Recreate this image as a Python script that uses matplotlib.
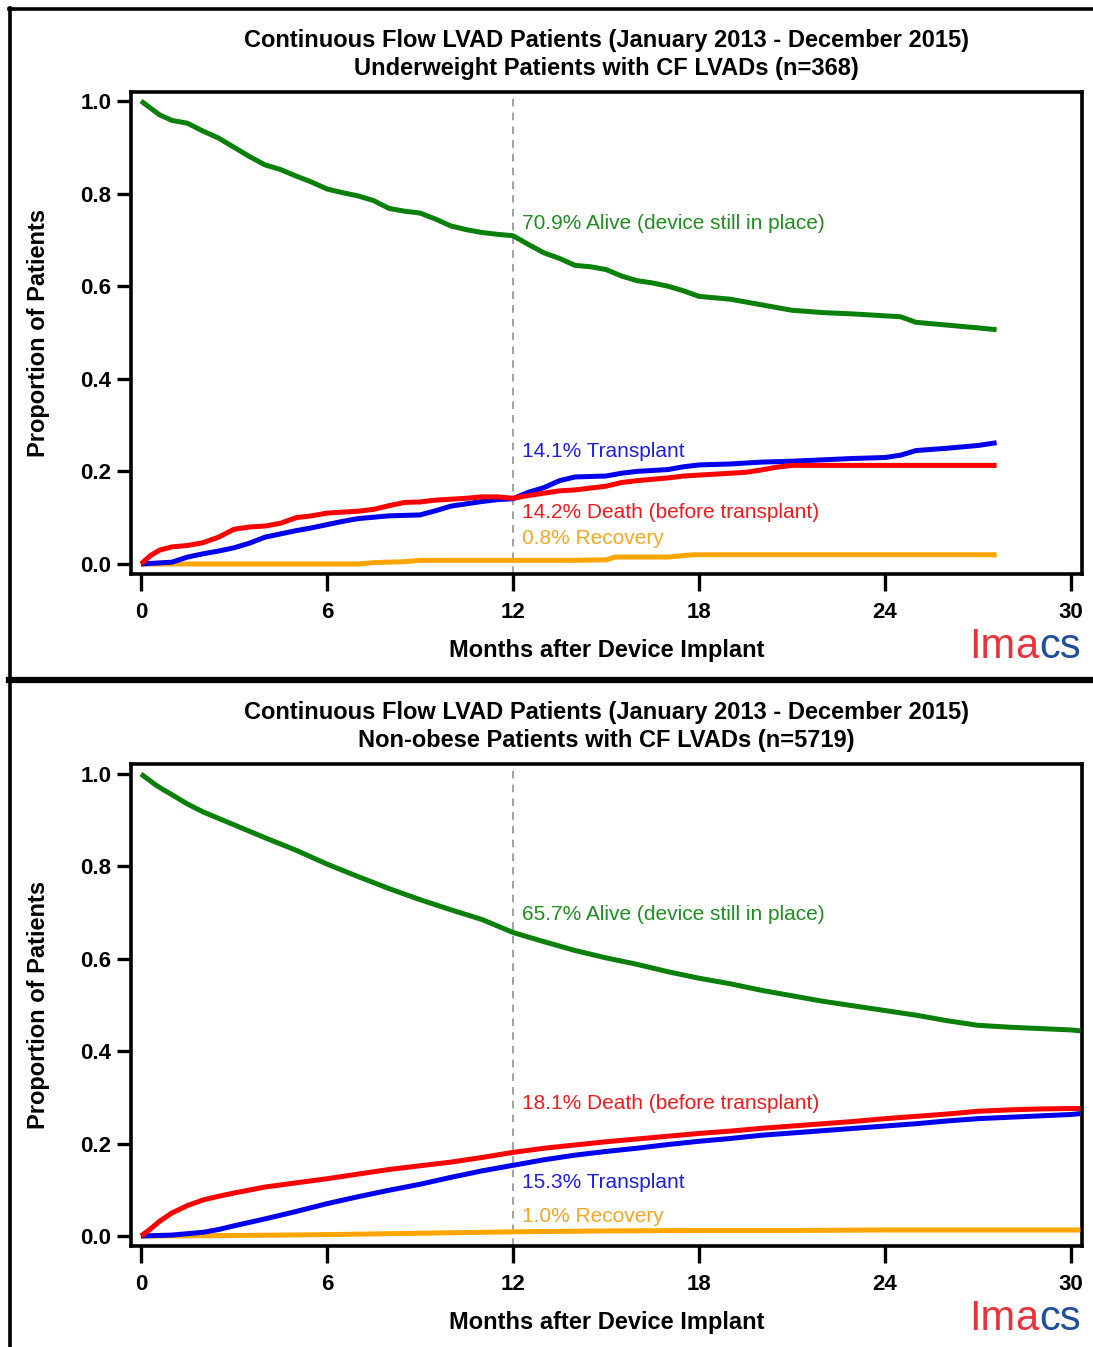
import matplotlib
matplotlib.use("Agg")
import matplotlib.pyplot as plt
from matplotlib.lines import Line2D
from matplotlib.offsetbox import TextArea, HPacker, AnchoredOffsetbox

plt.rcParams['font.family'] = ['Liberation Sans', 'DejaVu Sans']

# ---------------- Data ----------------
title_line1 = "Continuous Flow LVAD Patients (January 2013 - December 2015)"
p1_title2 = "Underweight Patients with CF LVADs (n=368)"
p2_title2 = "Non-obese Patients with CF LVADs (n=5719)"
x_label = "Months after Device Implant"
y_label = "Proportion of Patients"
x_ticks = [0, 6, 12, 18, 24, 30]
y_ticks = [0.0, 0.2, 0.4, 0.6, 0.8, 1.0]
y_ticklabels = ["0.0", "0.2", "0.4", "0.6", "0.8", "1.0"]

# Panel 1: underweight
p1_alive_x = [0, 0.3, 0.6, 1, 1.5, 2, 2.5, 3, 3.5, 4, 4.5, 5, 5.5, 6, 6.5, 7, 7.5, 8, 8.5, 9, 9.5, 10, 10.5, 11, 11.5, 12,
              12.5, 13, 13.5, 14, 14.5, 15, 15.5, 16, 16.5, 17, 17.5, 18, 19, 20, 21, 22, 23, 24, 24.5, 25, 26, 27, 27.6]
p1_alive_y = [1.0, 0.985, 0.97, 0.958, 0.952, 0.935, 0.92, 0.9, 0.88, 0.862, 0.852, 0.838, 0.825, 0.81, 0.802, 0.795, 0.785,
              0.768, 0.762, 0.758, 0.745, 0.73, 0.722, 0.716, 0.712, 0.709,
              0.69, 0.672, 0.66, 0.645, 0.642, 0.636, 0.622, 0.612, 0.607, 0.6, 0.59, 0.578, 0.572, 0.56, 0.548, 0.543, 0.54,
              0.536, 0.534, 0.522, 0.516, 0.51, 0.506]
p1_tx_x = [0, 1, 1.5, 2, 2.5, 3, 3.5, 4, 4.5, 5, 5.5, 6, 6.5, 7, 7.5, 8, 8.5, 9, 9.5, 10, 10.5, 11, 11.5, 12,
           12.5, 13, 13.5, 14, 15, 15.5, 16, 17, 17.5, 18, 19, 20, 21, 22, 23, 24, 24.5, 25, 26, 27, 27.6]
p1_tx_y = [0.0, 0.004, 0.015, 0.022, 0.028, 0.035, 0.045, 0.058, 0.065, 0.072, 0.078, 0.085, 0.092, 0.098, 0.101, 0.104, 0.105,
           0.106, 0.115, 0.125, 0.13, 0.135, 0.139, 0.141,
           0.155, 0.165, 0.18, 0.188, 0.19, 0.196, 0.2, 0.204, 0.21, 0.214, 0.216, 0.22, 0.222, 0.225, 0.228, 0.23, 0.235,
           0.245, 0.25, 0.256, 0.262]
p1_death_x = [0, 0.3, 0.6, 1, 1.5, 2, 2.5, 3, 3.5, 4, 4.5, 5, 5.5, 6, 6.5, 7, 7.5, 8, 8.5, 9, 9.5, 10, 10.5, 11, 11.5, 12,
              12.5, 13, 13.5, 14, 14.5, 15, 15.5, 16, 16.5, 17, 17.5, 18, 18.5, 19, 19.5, 20, 20.5, 21, 22, 24, 26, 27.6]
p1_death_y = [0.0, 0.018, 0.03, 0.037, 0.04, 0.046, 0.058, 0.075, 0.08, 0.082, 0.088, 0.1, 0.104, 0.11, 0.112, 0.114, 0.118,
              0.126, 0.133, 0.134, 0.138, 0.14, 0.142, 0.145, 0.145, 0.142,
              0.148, 0.153, 0.158, 0.16, 0.164, 0.168, 0.176, 0.18, 0.183, 0.186, 0.19, 0.192, 0.194, 0.196, 0.198, 0.203,
              0.209, 0.213, 0.213, 0.213, 0.213, 0.213]
p1_rec_x = [0, 3, 6, 7, 7.5, 8, 8.5, 9, 10, 12, 14, 15, 15.3, 17, 17.8, 18, 20, 24, 27.6]
p1_rec_y = [0.0, 0.0, 0.0, 0.0, 0.003, 0.004, 0.005, 0.008, 0.008, 0.008, 0.008, 0.009, 0.015, 0.015, 0.02, 0.02, 0.02, 0.02, 0.02]

# Panel 2: non-obese
p2_alive_x = [0, 0.5, 1, 1.5, 2, 3, 4, 5, 6, 7, 8, 9, 10, 11, 12, 13, 14, 15, 16, 17, 18, 19, 20, 21, 22, 23, 24, 25, 26,
              27, 28, 29, 30, 30.3]
p2_alive_y = [1.0, 0.975, 0.955, 0.935, 0.918, 0.89, 0.862, 0.835, 0.805, 0.778, 0.752, 0.728, 0.706, 0.685, 0.657, 0.637,
              0.618, 0.602, 0.588, 0.572, 0.558, 0.546, 0.532, 0.52, 0.508, 0.498, 0.488, 0.478, 0.466, 0.456, 0.452,
              0.449, 0.446, 0.444]
p2_death_x = [0, 0.3, 0.6, 1, 1.5, 2, 2.5, 3, 4, 5, 6, 7, 8, 9, 10, 11, 12, 13, 14, 15, 16, 17, 18, 19, 20, 21, 22, 23, 24,
              25, 26, 27, 28, 29, 30, 30.3]
p2_death_y = [0.0, 0.015, 0.032, 0.05, 0.066, 0.078, 0.086, 0.093, 0.106, 0.115, 0.124, 0.134, 0.144, 0.152, 0.16, 0.17,
              0.181, 0.19, 0.197, 0.204, 0.21, 0.216, 0.222, 0.227, 0.233, 0.238, 0.243, 0.248, 0.254, 0.259, 0.264,
              0.27, 0.273, 0.275, 0.276, 0.276]
p2_tx_x = [0, 1, 2, 2.5, 3, 4, 5, 6, 7, 8, 9, 10, 11, 12, 13, 14, 15, 16, 17, 18, 19, 20, 21, 22, 23, 24, 25, 26, 27, 28,
           29, 30, 30.3]
p2_tx_y = [0.0, 0.002, 0.008, 0.014, 0.022, 0.037, 0.053, 0.07, 0.085, 0.099, 0.112, 0.127, 0.141, 0.153, 0.165, 0.175,
           0.183, 0.19, 0.198, 0.205, 0.211, 0.218, 0.223, 0.228, 0.233, 0.238, 0.243, 0.249, 0.254, 0.257, 0.26,
           0.263, 0.265]
p2_rec_x = [0, 3, 6, 9, 12, 15, 18, 21, 24, 27, 30, 30.3]
p2_rec_y = [0.0, 0.001, 0.003, 0.006, 0.009, 0.011, 0.012, 0.012, 0.013, 0.013, 0.013, 0.013]

p1_labels = [("70.9% Alive (device still in place)", 0.736, "alive"),
             ("14.1% Transplant", 0.242, "tx"),
             ("14.2% Death (before transplant)", 0.112, "death"),
             ("0.8% Recovery", 0.054, "rec")]
p2_labels = [("65.7% Alive (device still in place)", 0.695, "alive"),
             ("18.1% Death (before transplant)", 0.286, "death"),
             ("15.3% Transplant", 0.115, "tx"),
             ("1.0% Recovery", 0.043, "rec")]

line_colors = {"alive": "#0a800a", "tx": "#0000ee", "death": "#ff0000", "rec": "#ffa500"}
text_colors = {"alive": "#1f8f1f", "tx": "#1f1fdd", "death": "#ee1c1c", "rec": "#f5a623"}

W, H = 1093, 1347
fig = plt.figure(figsize=(W / 100, H / 100), dpi=100)


def fx(px):
    return px / W


def fy(py):
    return 1 - py / H


AX_L, AX_R = 131, 1082


def make_panel(top_px, bottom_px, y1_px, y0_px, title2, series, labels, title_y):
    ax = fig.add_axes([fx(AX_L), fy(bottom_px), fx(AX_R) - fx(AX_L), fy(top_px) - fy(bottom_px)])
    for (xs, ys, key) in series:
        ax.plot(xs, ys, color=line_colors[key], lw=3.6, solid_capstyle='butt', zorder=3)
    ax.axvline(12, color='#888888', lw=1.1, ls=(0, (5, 4)), zorder=1)
    unit = y0_px - y1_px
    ax.set_xlim((AX_L - 141) / 31.0, (AX_R - 141) / 31.0)
    ax.set_ylim(-(bottom_px - y0_px) / unit, 1 + (y1_px - top_px) / unit)
    ax.set_xticks(x_ticks)
    ax.set_yticks(y_ticks)
    ax.set_yticklabels(y_ticklabels)
    ax.tick_params(axis='y', direction='out', length=10, width=2.4, labelsize=16, pad=4)
    ax.tick_params(axis='x', direction='out', length=12, width=2.4, labelsize=16, pad=8)
    for lab in ax.get_xticklabels() + ax.get_yticklabels():
        lab.set_fontweight('bold')
    for s in ax.spines.values():
        s.set_linewidth(2.6)
    h = bottom_px - top_px
    w = AX_R - AX_L
    ax.set_xlabel(x_label, fontsize=17, fontweight='bold', va='center')
    ax.xaxis.set_label_coords(0.5, -(651 - 574) / h)
    ax.set_ylabel(y_label, fontsize=17, fontweight='bold', va='center')
    ax.yaxis.set_label_coords(-(AX_L - 38) / w, 0.5)
    for text, yv, key in labels:
        ax.text(12.3, yv, text, color=text_colors[key], fontsize=15, va='center', ha='left', zorder=4)
    fig.text(fx(606), fy(title_y), title_line1, ha='center', va='center', fontsize=17, fontweight='bold')
    fig.text(fx(606), fy(title_y + 28), title2, ha='center', va='center', fontsize=17, fontweight='bold')
    return ax


make_panel(92, 574, 101, 564, p1_title2,
           [(p1_alive_x, p1_alive_y, "alive"), (p1_rec_x, p1_rec_y, "rec"),
            (p1_tx_x, p1_tx_y, "tx"), (p1_death_x, p1_death_y, "death")],
           p1_labels, 40)
make_panel(764, 1246, 774, 1236, p2_title2,
           [(p2_alive_x, p2_alive_y, "alive"), (p2_rec_x, p2_rec_y, "rec"),
            (p2_tx_x, p2_tx_y, "tx"), (p2_death_x, p2_death_y, "death")],
           p2_labels, 712)


def logo(cy):
    parts = [TextArea("Im", textprops=dict(color="#e8333c", fontsize=30)),
             TextArea("a", textprops=dict(color="#e8333c", fontsize=30)),
             TextArea("cs", textprops=dict(color="#1d4f9c", fontsize=30))]
    box = HPacker(children=parts, align="baseline", pad=0, sep=0)
    ab = AnchoredOffsetbox(loc='center', child=box, frameon=False,
                           bbox_to_anchor=(fx(1025), fy(cy)), bbox_transform=fig.transFigure, pad=0, borderpad=0)
    fig.add_artist(ab)


logo(647)
logo(1319)

# frame lines
fig.add_artist(Line2D([fx(10), fx(10)], [fy(8), fy(1347)], color='black', lw=2.6))
fig.add_artist(Line2D([fx(9), fx(1093)], [fy(9), fy(9)], color='black', lw=2.6))
fig.add_artist(Line2D([fx(9), fx(1093)], [fy(680.5), fy(680.5)], color='black', lw=4.5))

fig.savefig("out.png", dpi=100, facecolor='white')
